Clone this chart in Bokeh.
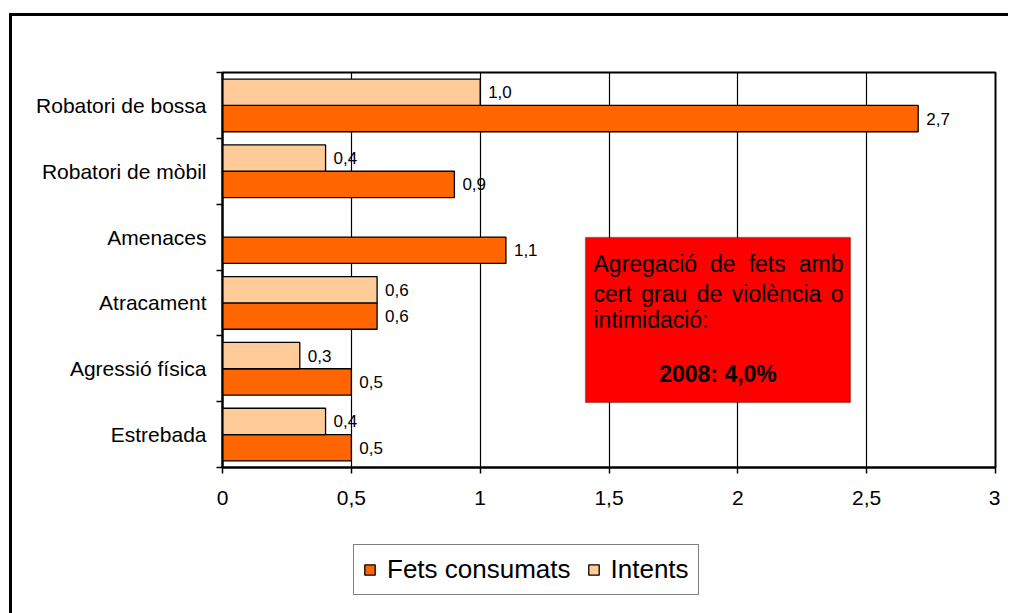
from bokeh.plotting import figure
from bokeh.layouts import column
from bokeh.models import (ColumnDataSource, Range1d, FixedTicker, BoxAnnotation,
                          Legend, LegendItem, Label, InlineStyleSheet)
from bokeh.embed import file_html
from bokeh.resources import INLINE
from bokeh.core.properties import value

# ---------------- data ----------------
categories = ["Robatori de bossa", "Robatori de mòbil", "Amenaces",
              "Atracament", "Agressió física", "Estrebada"]
fets_consumats = [2.7, 0.9, 1.1, 0.6, 0.5, 0.5]
intents = [1.0, 0.4, None, 0.6, 0.3, 0.4]
x_ticks = [0, 0.5, 1, 1.5, 2, 2.5, 3]
x_tick_labels = ["0", "0,5", "1", "1,5", "2", "2,5", "3"]
series_names = ["Fets consumats", "Intents"]
box_title = ["Agregació de fets amb", "cert grau de violència o", "intimidació:"]
box_total = "2008: 4,0%"

# ---------------- style ----------------
FONT = "Liberation Sans"
ORANGE = "#FF6600"
LIGHT = "#FFCC99"
W, H = 1000, 520          # main chart
HL = 93                   # legend strip below it
FL, FR, FT, FB = 222, 995, 72, 467   # frame edges (pixels)
XMAX = 3
n = len(categories)
BOX_FS = 23

# approximate Arial / Liberation Sans advance widths (em/1000) for justification
AW = {" ": 278, "A": 667, "a": 556, "b": 556, "c": 500, "d": 556, "e": 556,
      "f": 278, "g": 556, "i": 222, "l": 222, "m": 833, "n": 556, "o": 556,
      "ó": 556, "è": 556, "r": 333, "s": 500, "t": 278, "u": 556, "v": 500,
      ":": 278}


def tw(s, fs):
    return sum(AW.get(ch, 556) for ch in s) * fs / 1000.0


def dx(px):
    return (px - FL) / (FR - FL) * XMAX


def dy(py):
    return (FB - py) / (FB - FT) * n


def fmt(v):
    return f"{v:.1f}".replace(".", ",")


centers = [n - 0.5 - i for i in range(n)]

p = figure(width=W, height=H, x_range=Range1d(0, XMAX), y_range=Range1d(0, n),
           output_backend="svg", toolbar_location=None,
           min_border_left=FL, min_border_right=W - FR,
           min_border_top=FT, min_border_bottom=H - FB)
p.background_fill_color = "white"
p.border_fill_color = "white"
p.outline_line_color = "black"
p.outline_line_width = 2

# outer chart border (left and top edges visible in the reference)
p.stylesheets = [InlineStyleSheet(css=(
    ":host::after{content:'';position:fixed;left:9px;top:13px;right:1px;bottom:-20px;"
    "border-left:3px solid black;border-top:3px solid black;"
    "pointer-events:none;z-index:10;}"))]

# bars
src_c = ColumnDataSource(dict(y=[c - 0.2 for c in centers], v=fets_consumats,
                              t=[fmt(v) for v in fets_consumats]))
ii = [i for i, v in enumerate(intents) if v is not None]
src_i = ColumnDataSource(dict(y=[centers[i] + 0.2 for i in ii],
                              v=[intents[i] for i in ii],
                              t=[fmt(intents[i]) for i in ii]))

p.hbar(y="y", right="v", left=0, height=0.4, source=src_c,
       fill_color=ORANGE, line_color="black", line_width=1.3)
p.hbar(y="y", right="v", left=0, height=0.4, source=src_i,
       fill_color=LIGHT, line_color="black", line_width=1.3)

for s in (src_c, src_i):
    p.text(x="v", y="y", text="t", source=s, x_offset=8,
           text_baseline="middle", text_align="left",
           text_font=value(FONT), text_font_size="17px", text_color="black")

# axes
p.xaxis.ticker = FixedTicker(ticks=x_ticks)
p.xaxis.major_label_overrides = dict(zip(x_ticks, x_tick_labels))
p.xaxis.major_tick_out = 6
p.xaxis.major_tick_in = 0
p.xaxis.minor_tick_line_color = None
p.xaxis.major_label_standoff = 17

p.yaxis.ticker = FixedTicker(ticks=centers, minor_ticks=list(range(n + 1)))
p.yaxis.major_label_overrides = dict(zip(centers, categories))
p.yaxis.major_tick_line_color = None
p.yaxis.major_tick_out = 0
p.yaxis.major_tick_in = 0
p.yaxis.minor_tick_out = 6
p.yaxis.minor_tick_in = 0
p.yaxis.minor_tick_line_color = "black"
p.yaxis.minor_tick_line_width = 1.5
p.yaxis.major_label_standoff = 10

for ax in (p.xaxis, p.yaxis):
    ax.axis_line_color = "black"
    ax.axis_line_width = 2
    ax.major_tick_line_width = 1.5
    ax.major_label_text_font = FONT
    ax.major_label_text_font_size = "21px"
    ax.major_label_text_color = "black"

p.xgrid.ticker = FixedTicker(ticks=x_ticks)
p.xgrid.grid_line_color = "black"
p.xgrid.grid_line_width = 1.2
p.ygrid.grid_line_color = None

# red annotation box
BX0, BX1, BY0, BY1 = 585, 850, 237, 402
p.add_layout(BoxAnnotation(left=dx(BX0), right=dx(BX1), top=dy(BY0), bottom=dy(BY1),
                           fill_color="#FF0000", fill_alpha=1,
                           line_color="black", line_width=1.5))

IN0, IN1 = BX0 + 8, BX1 - 7
baselines = [263, 293, 319]
for li, line in enumerate(box_title):
    ws = line.split()
    justify = li < len(box_title) - 1
    if justify and len(ws) > 1:
        gap = (IN1 - IN0 - sum(tw(w, BOX_FS) for w in ws)) / (len(ws) - 1)
    else:
        gap = tw(" ", BOX_FS)
    x = IN0
    for k, w in enumerate(ws):
        last = justify and k == len(ws) - 1 and len(ws) > 1
        p.add_layout(Label(x=dx(IN1 if last else x), y=dy(baselines[li]), text=w,
                           text_align="right" if last else "left",
                           text_baseline="alphabetic", text_font=FONT,
                           text_font_size=f"{BOX_FS}px", text_color="black"))
        x += tw(w, BOX_FS) + gap
p.add_layout(Label(x=dx((BX0 + BX1) / 2), y=dy(373), text=box_total, text_align="center",
                   text_baseline="alphabetic", text_font=FONT,
                   text_font_size=f"{BOX_FS}px", text_font_style="bold",
                   text_color="black"))

# legend strip (separate small figure below the chart); its renderers reuse the
# bar sources but are hidden, only their legend swatches are drawn
pl = figure(width=W, height=HL, x_range=Range1d(-20, -19), y_range=Range1d(-20, -19),
            output_backend="svg", toolbar_location=None,
            min_border_left=FL, min_border_right=W - FR,
            min_border_top=0, min_border_bottom=0,
            x_axis_type=None, y_axis_type=None)
pl.outline_line_color = None
pl.background_fill_color = "white"
pl.border_fill_color = "white"
pl.xgrid.visible = False
pl.ygrid.visible = False
lc = pl.hbar(y="y", right="v", left=0, height=0.4, source=src_c,
             fill_color=ORANGE, line_color="black", line_width=1.3)
lq = pl.hbar(y="y", right="v", left=0, height=0.4, source=src_i,
             fill_color=LIGHT, line_color="black", line_width=1.3)
lc.visible = False
lq.visible = False
legend = Legend(items=[LegendItem(label=series_names[0], renderers=[lc]),
                       LegendItem(label=series_names[1], renderers=[lq])],
                orientation="horizontal", location=(353 - FL, 18))
legend.label_text_font = FONT
legend.label_text_font_size = "26px"
legend.label_text_color = "black"
legend.glyph_width = 13
legend.glyph_height = 13
legend.label_standoff = 11
legend.spacing = 16
legend.padding = 9
legend.margin = 0
legend.border_line_color = "black"
legend.border_line_width = 1.5
legend.background_fill_color = "white"
legend.background_fill_alpha = 1
legend.inactive_fill_alpha = 0
legend.click_policy = "none"
pl.add_layout(legend, "center")

layout = column(p, pl, spacing=0)
open("out.html", "w").write(file_html(layout, INLINE))
